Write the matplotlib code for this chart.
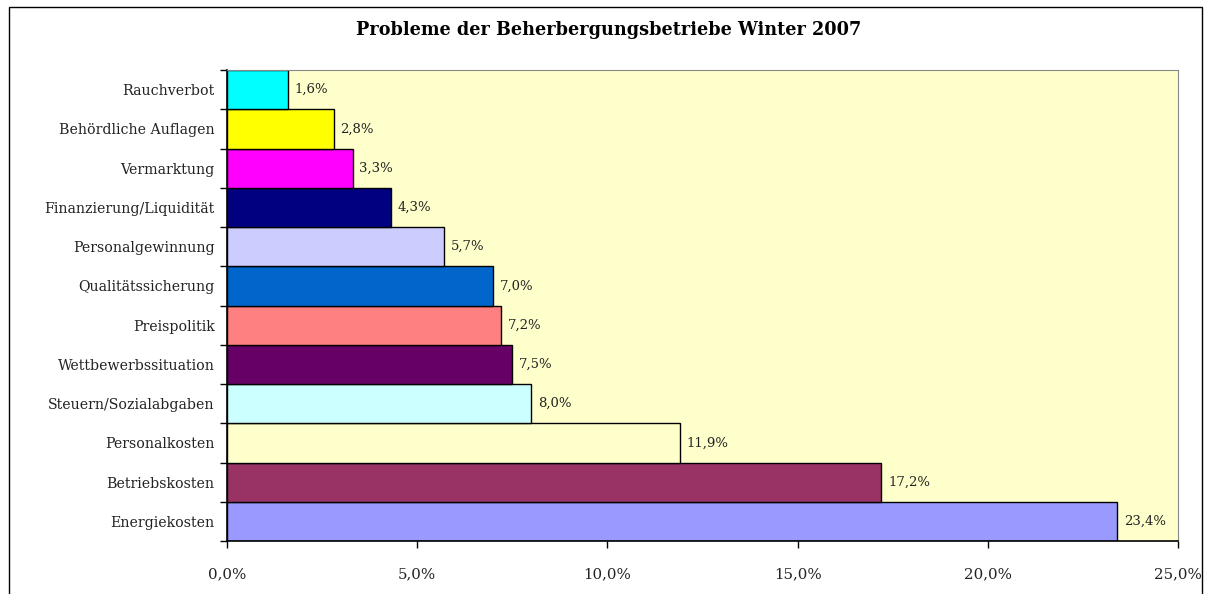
import matplotlib.pyplot as plt
from matplotlib.patches import Rectangle

kategorien = ['Energiekosten', 'Betriebskosten', 'Personalkosten', 'Steuern/Sozialabgaben',
              'Wettbewerbssituation', 'Preispolitik', 'Qualitätssicherung', 'Personalgewinnung',
              'Finanzierung/Liquidität', 'Vermarktung', 'Behördliche Auflagen', 'Rauchverbot']
werte = [23.4, 17.2, 11.9, 8.0, 7.5, 7.2, 7.0, 5.7, 4.3, 3.3, 2.8, 1.6]
farben = ['#9999FF', '#993366', '#FFFFCC', '#CCFFFF', '#660066', '#FF8080',
          '#0066CC', '#CCCCFF', '#000080', '#FF00FF', '#FFFF00', '#00FFFF']
xticks = [0, 5, 10, 15, 20, 25]

plt.rcParams['font.family'] = ['DejaVu Serif']

fig = plt.figure(figsize=(12.08, 5.94), dpi=100)
ax = fig.add_axes([227/1208, 53/594, 951/1208, 471/594])
ax.set_facecolor('#FFFFCC')

ax.barh(range(len(werte)), werte, height=1.0, color=farben, edgecolor='black', linewidth=1)
for i, v in enumerate(werte):
    ax.text(v + 0.18, i, f'{v:.1f}%'.replace('.', ','), va='center', ha='left', fontsize=9.5, color='#222222')

ax.set_xlim(0, 25)
ax.set_ylim(-0.5, len(werte) - 0.5)
ax.set_xticks(xticks)
ax.set_xticklabels([f'{t:.1f}%'.replace('.', ',') for t in xticks], fontsize=10.8, color='#222222')
ax.set_yticks(range(len(werte)))
ax.set_yticklabels(kategorien, fontsize=10.2, color='#222222')
ax.set_yticks([i - 0.5 for i in range(len(werte) + 1)], minor=True)
ax.tick_params(axis='y', which='major', length=0, pad=9)
ax.tick_params(axis='y', which='minor', length=5, width=1)
ax.tick_params(axis='x', length=5, width=1, pad=14)

for s in ['top', 'right']:
    ax.spines[s].set_color('#888888')
for s in ['left', 'bottom']:
    ax.spines[s].set_color('black')
    ax.spines[s].set_linewidth(1.2)

fig.text(609/1208, 1 - 30/594, 'Probleme der Beherbergungsbetriebe Winter 2007',
         ha='center', va='center', fontsize=12.7, fontweight='bold')

fig.patches.append(Rectangle((9/1208, -0.05), 1193/1208, 1.05 - 7/594, transform=fig.transFigure,
                             fill=False, edgecolor='black', linewidth=1))

fig.savefig('out.png', dpi=100)
